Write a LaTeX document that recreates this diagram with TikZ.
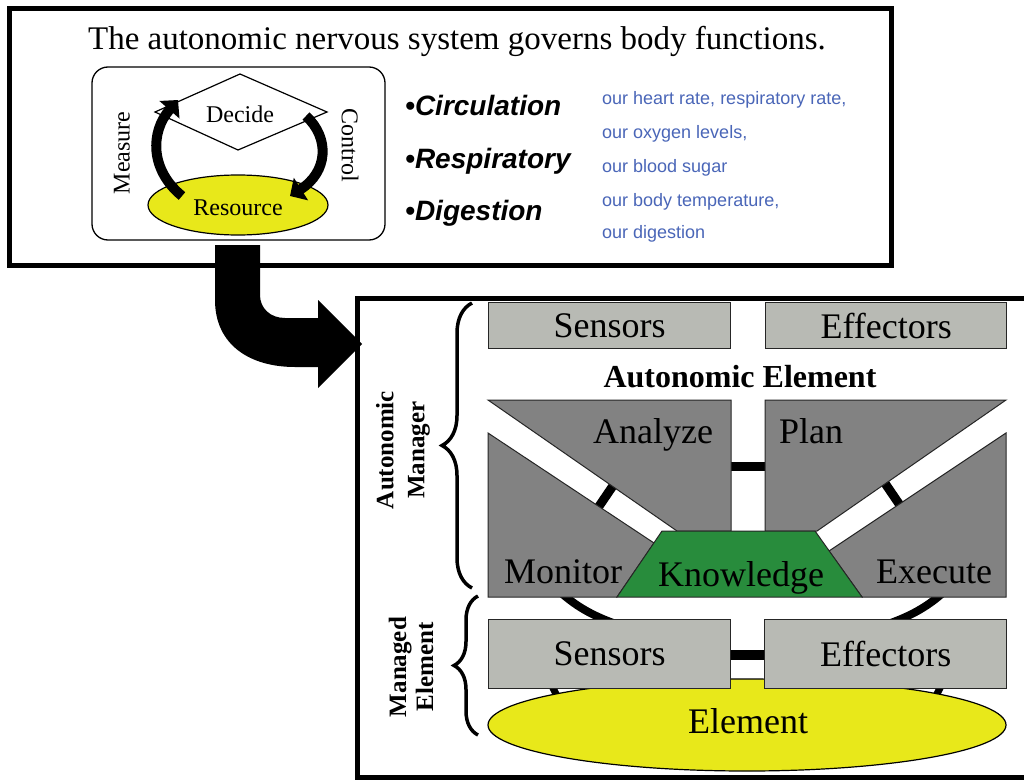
\documentclass[tikz,border=0pt]{standalone}
\usepackage{fontspec}
\setmainfont{Liberation Serif}
\newfontfamily\arialf{Liberation Sans}
\usetikzlibrary{arrows.meta,decorations.pathreplacing}
\definecolor{yel}{RGB}{232,232,26}
\definecolor{lightg}{RGB}{184,186,180}
\definecolor{darkg}{RGB}{130,130,130}
\definecolor{kgreen}{RGB}{40,140,60}
\definecolor{bluetx}{RGB}{74,102,184}
\tikzset{
  frame/.style={line width=5pt, black},
  lbl/.style={font=\fontsize{36}{40}\selectfont, inner sep=0pt},
  smalllbl/.style={font=\fontsize{24}{28}\selectfont, inner sep=0pt},
  graybox/.style={fill=lightg, draw=black!85, line width=1.3pt, inner sep=0pt, font=\fontsize{36}{40}\selectfont},
  darkshape/.style={fill=darkg, draw=black!85, line width=1pt},
  conn/.style={line width=9pt, black},
  bullet/.style={anchor=base west, inner sep=0pt, font=\arialf\bfseries\itshape\fontsize{28}{32}\selectfont},
  bluetxt/.style={anchor=base west, inner sep=0pt, text=bluetx, font=\arialf\fontsize{18}{20}\selectfont},
  bentarrow/.style={line width=10pt, -{Triangle[length=13pt,width=26pt]}},
  sidebrace/.style={decorate, line width=3.5pt},
}
\begin{document}
\begin{tikzpicture}[x=1pt,y=-1pt]
\useasboundingbox (0,0) rectangle (1024,781);
\fill[white] (0,0) rectangle (1024,781);

% ---------- top box ----------
\draw[frame] (9,9) rectangle (891,265);
\node[anchor=base, inner sep=0pt, font=\fontsize{33}{36}\selectfont] (title) at (457,50)
  {The autonomic nervous system governs body functions.};

\draw[line width=1.3pt, rounded corners=16pt] (92,67) rectangle (385,240);
\coordinate (ellc) at (238,205);
\draw[fill=yel, line width=1.2pt] (ellc) ellipse [x radius=90pt, y radius=30pt];
\draw[fill=white, line width=1.2pt] (155,112) -- (240,74) -- (327,112) -- (238,150) -- cycle;
\node[smalllbl, anchor=base] (decide) at (240,122) {Decide};
\node[smalllbl, anchor=base] (resource) at (238,215) {Resource};
\node[smalllbl, rotate=90] (measure) at (122,153) {Measure};
\node[smalllbl, rotate=-90] (control) at (350,145) {Control};
\coordinate (la0) at (182,196);
\coordinate (la1) at (178,100);
\coordinate (ra0) at (306,116);
\coordinate (ra1) at (290,196);
\draw[bentarrow] (la0) .. controls (150,170) and (150,132) .. (la1);
\draw[bentarrow] (ra0) .. controls (330,138) and (328,172) .. (ra1);

\node[bullet] (circ) at (405,115) {•Circulation};
\node[bullet] (resp) at (405,168) {•Respiratory};
\node[bullet] (dige) at (405,220) {•Digestion};
\node[bluetxt] (b1) at (602,105) {our heart rate, respiratory rate,};
\node[bluetxt] (b2) at (602,139) {our oxygen levels,};
\node[bluetxt] (b3) at (602,172) {our blood sugar};
\node[bluetxt] (b4) at (602,206) {our body temperature,};
\node[bluetxt] (b5) at (602,238) {our digestion};

% ---------- big bent arrow ----------
\fill[black] (215,245) -- (215,300) .. controls (215,345) and (250,367) .. (295,367)
  -- (318,367) -- (318,388) -- (362,344) -- (318,300) -- (318,318) -- (285,318)
  .. controls (270,318) and (260,308) .. (260,295) -- (260,245) -- cycle;

% ---------- lower box ----------
\draw[frame] (1030,298) -- (357,298) -- (357,777) -- (1030,777);

\node[graybox, anchor=north west, minimum width=242pt, minimum height=46pt] (sens1) at (488,302) {Sensors};
\node[graybox, anchor=north west, minimum width=241pt, minimum height=46pt] (eff1) at (765,302) {Effectors};
\node[anchor=base, inner sep=0pt, font=\bfseries\fontsize{32}{36}\selectfont] (ae) at (740,387) {Autonomic Element};

% connectors behind shapes
\coordinate (lb0) at (589,521); \coordinate (lb1) at (623,471);
\coordinate (rb0) at (876,470); \coordinate (rb1) at (910,520);
\coordinate (vb0) at (720,466); \coordinate (vb1) at (776,466);
\draw[conn] (lb0) -- (lb1);
\draw[conn] (rb0) -- (rb1);
\draw[conn] (vb0) -- (vb1);
\coordinate (la) at (550,582); \coordinate (lc) at (625,627);
\coordinate (ra) at (954,582); \coordinate (rc) at (879,627);
\draw[line width=8pt] (la) .. controls (570,603) and (590,616) .. (lc);
\draw[line width=8pt] (ra) .. controls (934,603) and (914,616) .. (rc);
\coordinate (sl0) at (550,682); \coordinate (sl1) at (560,702);
\coordinate (sr0) at (943,682); \coordinate (sr1) at (933,702);
\draw[line width=7pt] (sl0) -- (sl1);
\draw[line width=7pt] (sr0) -- (sr1);
\coordinate (hb0) at (720,655); \coordinate (hb1) at (775,655);
\draw[line width=10pt] (hb0) -- (hb1);

% gray MAPE shapes
\draw[darkshape] (488,400) -- (731,400) -- (731,531) -- (677,531) -- cycle;
\draw[darkshape] (765,400) -- (1006,400) -- (817,531) -- (765,531) -- cycle;
\draw[darkshape] (488,433) -- (654,543) -- (617,597) -- (488,597) -- cycle;
\draw[darkshape] (1006,433) -- (829,551) -- (862,597) -- (1006,597) -- cycle;
\draw[fill=kgreen, draw=black!85, line width=1pt] (617,597) -- (662,531) -- (815,531) -- (862,597) -- cycle;
\node[lbl, anchor=base] (analyze) at (653,443) {Analyze};
\node[lbl, anchor=base] (plan) at (811,443) {Plan};
\node[lbl, anchor=base] (monitor) at (563,583) {Monitor};
\node[lbl, anchor=base] (know) at (741,586) {Knowledge};
\node[lbl, anchor=base] (execute) at (934,583) {Execute};

% managed element
\draw[fill=yel, line width=1.2pt] (747,725) ellipse [x radius=259pt, y radius=46pt];
\node[graybox, anchor=north west, minimum width=242pt, minimum height=69pt] (sens2) at (488,619) {Sensors};
\node[graybox, anchor=north west, minimum width=242pt, minimum height=69pt] (eff2) at (764,619) {Effectors};
\node[lbl, anchor=base] (elem) at (748,733) {Element};

% braces and side labels
\draw[sidebrace, decoration={brace, amplitude=30pt}] (472,588) -- (472,303);
\draw[sidebrace, decoration={brace, amplitude=24pt}] (478,735) -- (478,596);
\node[rotate=90, align=center, inner sep=0pt, font=\bfseries\fontsize{25}{31}\selectfont] (am) at (403,450) {Autonomic\\Manager};
\node[rotate=90, align=center, inner sep=0pt, font=\bfseries\fontsize{25}{27}\selectfont] (me) at (411,667) {Managed\\Element};
\end{tikzpicture}
\end{document}
